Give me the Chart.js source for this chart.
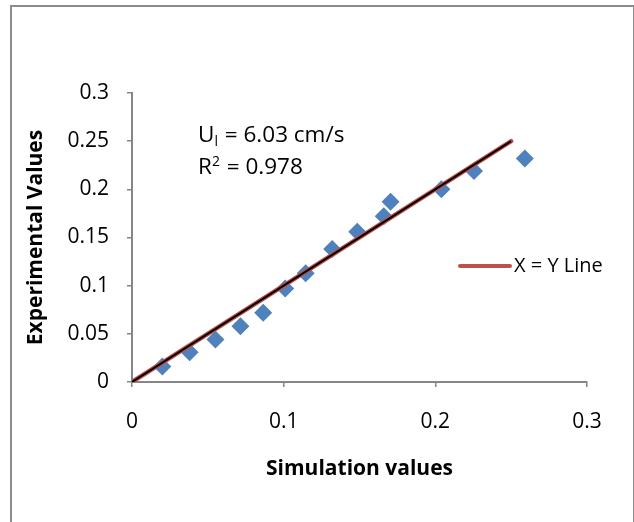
<!DOCTYPE html>
<html>
<head>
<meta charset="utf-8">
<script src="https://cdn.jsdelivr.net/npm/chart.js@4.4.1/dist/chart.umd.min.js"></script>
<style>
  html, body { margin: 0; padding: 0; background: #fff; overflow: hidden; }
  #wrap { position: relative; width: 634px; height: 522px; }
  #frame { position: absolute; left: 10px; top: 5px; width: 621px; height: 540px; border: 2px solid #8c8c8c; pointer-events: none; }
</style>
</head>
<body>
<div id="wrap">
  <canvas id="fitChart"></canvas>
  <div id="frame"></div>
</div>
<script>
const simValues = [0.020, 0.038, 0.055, 0.0715, 0.0865, 0.101, 0.1145, 0.132, 0.1485, 0.166, 0.1705, 0.204, 0.2255, 0.259];
const expValues = [0.016, 0.031, 0.044, 0.058, 0.072, 0.097, 0.113, 0.138, 0.156, 0.172, 0.187, 0.200, 0.219, 0.232];
// X = Y reference line
const lineX = [0, 0.25];
const lineY = [0, 0.25];
const xTickLabels = ['0', '0.1', '0.2', '0.3'];
const yTickLabels = ['0', '0.05', '0.1', '0.15', '0.2', '0.25', '0.3'];
const fitText = ['U', 'l', ' = 6.03 cm/s'];
const r2Text = ['R', '2', ' = 0.978'];

const FONT = '"Open Sans"';
const axisGrey = '#868686';

const toPoints = (xs, ys) => xs.map((x, i) => ({ x: x, y: ys[i] }));

// text box with the fit result + legend sitting inside the plot, like excel does it
const notes = {
    id: 'notes',
    afterDatasetsDraw(chart) {
        const ctx = chart.ctx;
        const a = chart.chartArea;
        ctx.save();
        ctx.fillStyle = '#000';
        ctx.textBaseline = 'alphabetic';
        ctx.textAlign = 'left';

        let x = a.left + 66;
        let y = a.top + 49;
        ctx.font = '22.5px ' + FONT;
        ctx.fillText(fitText[0], x, y);
        x += ctx.measureText(fitText[0]).width;
        ctx.font = '14px ' + FONT;
        ctx.fillText(fitText[1], x, y + 4);
        x += ctx.measureText(fitText[1]).width + 1;
        ctx.font = '22.5px ' + FONT;
        ctx.fillText(fitText[2], x, y);

        x = a.left + 66;
        y = a.top + 81;
        ctx.fillText(r2Text[0], x, y);
        x += ctx.measureText(r2Text[0]).width;
        ctx.font = '14px ' + FONT;
        ctx.fillText(r2Text[1], x, y - 8);
        x += ctx.measureText(r2Text[1]).width + 1;
        ctx.font = '22.5px ' + FONT;
        ctx.fillText(r2Text[2], x, y);

        // legend
        const ds = chart.data.datasets[0];
        const ly = a.top + 173;
        ctx.strokeStyle = ds.borderColor;
        ctx.lineWidth = 4;
        ctx.lineCap = 'round';
        ctx.beginPath();
        ctx.moveTo(a.left + 328, ly);
        ctx.lineTo(a.left + 378, ly);
        ctx.stroke();
        ctx.font = '20px ' + FONT;
        ctx.textBaseline = 'middle';
        ctx.fillText(ds.label, a.left + 382, ly);
        ctx.restore();
    }
};

const ctxFit = document.getElementById('fitChart').getContext('2d');
const fitChart = new Chart(ctxFit, {
    type: 'scatter',
    data: {
        datasets: [{
            label: 'X = Y Line',
            data: toPoints(lineX, lineY),
            showLine: true,
            borderColor: '#c0504d',
            borderWidth: 4.5,
            borderCapStyle: 'round',
            pointRadius: 0,
            order: 2
        }, {
            label: 'Fit',
            data: toPoints(lineX, lineY),
            showLine: true,
            borderColor: '#000000',
            borderWidth: 2,
            pointRadius: 0,
            order: 1
        }, {
            label: 'Experimental',
            data: toPoints(simValues, expValues),
            pointStyle: 'rectRot',
            pointRadius: 9,
            backgroundColor: '#4f81bd',
            borderWidth: 0,
            order: 3
        }]
    },
    options: {
        responsive: true,
        maintainAspectRatio: false,
        animation: false,
        layout: { padding: { top: 93, right: 47, left: 0, bottom: 0 } },
        scales: {
            x: {
                type: 'linear',
                min: 0,
                max: 0.3,
                afterBuildTicks: s => { s.ticks = xTickLabels.map(v => ({ value: +v })); },
                afterFit: s => { s.height = 140; },
                ticks: {
                    callback: (v, i) => xTickLabels[i],
                    font: { family: FONT, size: 21 },
                    color: '#000',
                    padding: 22,
                    maxRotation: 0,
                    autoSkip: false
                },
                grid: { drawOnChartArea: false, tickLength: 5, color: axisGrey, lineWidth: 1.5 },
                border: { color: axisGrey, width: 2 },
                title: {
                    display: true,
                    text: 'Simulation values',
                    font: { family: FONT, size: 21, weight: 'bold' },
                    color: '#000',
                    padding: { top: 0, bottom: 40 }
                }
            },
            y: {
                type: 'linear',
                min: 0,
                max: 0.3,
                afterBuildTicks: s => { s.ticks = yTickLabels.map(v => ({ value: +v })); },
                afterFit: s => { s.width = 132; },
                ticks: {
                    callback: (v, i) => yTickLabels[i],
                    font: { family: FONT, size: 21 },
                    color: '#000',
                    padding: 18,
                    autoSkip: false
                },
                grid: { drawOnChartArea: false, tickLength: 5, color: axisGrey, lineWidth: 1.5 },
                border: { color: axisGrey, width: 2 },
                title: {
                    display: true,
                    text: 'Experimental Values',
                    font: { family: FONT, size: 21, weight: 'bold' },
                    color: '#000',
                    padding: { top: 23, bottom: 23 }
                }
            }
        },
        plugins: {
            legend: { display: false },
            tooltip: { enabled: false }
        }
    },
    plugins: [notes]
});
</script>
</body>
</html>
